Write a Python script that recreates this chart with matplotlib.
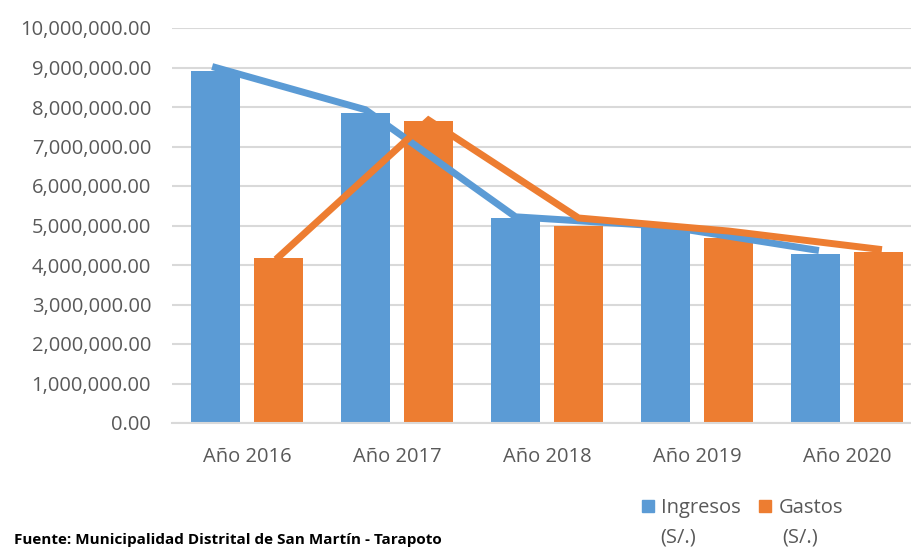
import matplotlib.pyplot as plt
import numpy as np
from matplotlib.ticker import FuncFormatter

years = ["Año 2016", "Año 2017", "Año 2018", "Año 2019", "Año 2020"]
ingresos = [8910000, 7850000, 5190000, 4960000, 4280000]
gastos = [4180000, 7650000, 4990000, 4680000, 4330000]
ingresos_line = [9000000, 7930000, 5220000, 4980000, 4380000]
gastos_line = [4200000, 7670000, 5190000, 4860000, 4400000]

BLUE = "#5B9BD5"
ORANGE = "#ED7D31"
GRAY = "#595959"
FS = 14.5

plt.rcParams["font.family"] = ["Open Sans", "DejaVu Sans"]

fig = plt.figure(figsize=(9.11, 5.49), dpi=100)
# axis runs a bit past the right edge of the picture, as in the reference
ax = fig.add_axes([172 / 911, 1 - 423 / 549, 750 / 911, 395 / 549])

x = np.arange(len(years))
off = 0.21
w = 0.33
ax.bar(x - off, ingresos, width=w, color=BLUE, zorder=2)
ax.bar(x + off, gastos, width=w, color=ORANGE, zorder=2)
ax.plot(x - off, ingresos_line, color=BLUE, lw=5, zorder=3, solid_joinstyle="miter")
ax.plot(x + off, gastos_line, color=ORANGE, lw=5, zorder=3, solid_joinstyle="miter")

ax.set_xlim(-0.5, len(years) - 0.5)
ax.set_ylim(0, 10000000)
ax.set_yticks(np.arange(0, 10000001, 1000000))
ax.yaxis.set_major_formatter(FuncFormatter(lambda v, p: f"{v:,.2f}"))
ax.set_xticks(x)
ax.set_xticklabels(years)

ax.grid(axis="y", color="#D9D9D9", lw=1.5, zorder=0)
for s in ["top", "right", "left"]:
    ax.spines[s].set_visible(False)
ax.spines["bottom"].set_color("#D9D9D9")
ax.spines["bottom"].set_linewidth(1.5)
ax.tick_params(axis="both", length=0, labelsize=FS, colors=GRAY)
ax.tick_params(axis="x", pad=17)
ax.tick_params(axis="y", pad=15)

# legend at bottom right, second line of each label placed under it
handles = [plt.Rectangle((0, 0), 1, 1, color=BLUE), plt.Rectangle((0, 0), 1, 1, color=ORANGE)]
leg = fig.legend(handles, ["Ingresos", "Gastos"], loc="center left",
                 bbox_to_anchor=(624 / 911, 1 - 508 / 549), ncol=2, frameon=False,
                 fontsize=FS, handlelength=0.6, handleheight=0.6,
                 handletextpad=0.35, columnspacing=0.9, labelcolor=GRAY)
fig.text(660 / 911, 1 - 537 / 549, "(S/.)", fontsize=FS, color=GRAY, va="center")
fig.text(782 / 911, 1 - 537 / 549, "(S/.)", fontsize=FS, color=GRAY, va="center")

# source note at the bottom left
fig.text(14 / 911, 1 - 547 / 549, "Fuente: Municipalidad Distrital de San Martín - Tarapoto",
         fontsize=11, fontweight="bold", color="black", va="bottom")

fig.savefig("out.png", dpi=100)
